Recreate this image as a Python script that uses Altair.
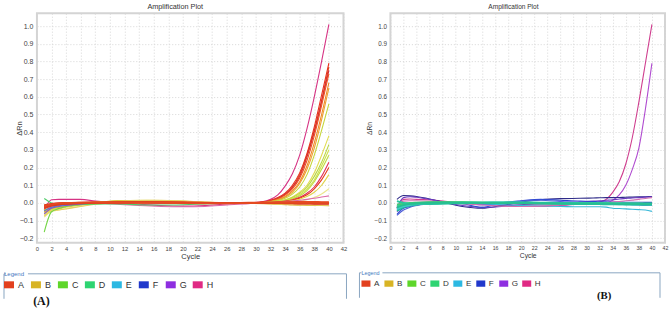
import altair as alt
import pandas as pd

# ---------------- data ----------------
CYCLES = [1, 2, 3, 4, 6, 8, 11, 14, 17, 20, 23, 26, 29, 31, 32, 33, 34, 35, 36, 37, 38, 39, 40]
ROWS = ["A", "B", "C", "D", "E", "F", "G", "H"]
X_TICKS = list(range(0, 43, 2))
Y_TICKS = [-0.2, -0.1, 0.0, 0.1, 0.2, 0.3, 0.4, 0.5, 0.6, 0.7, 0.8, 0.9, 1.0]

# Panel (A) wells: delta Rn per cycle
A_WELLS = {
    "a_pink1":   [-0.04, 0.018, 0.02, 0.02, 0.02, 0.01, 0.0, -0.008, -0.015, -0.018, -0.015, -0.006, 0.0, 0.008, 0.02, 0.045, 0.095, 0.165, 0.27, 0.42, 0.60, 0.80, 1.01],
    "a_red1":    [-0.02, -0.012, -0.006, -0.003, 0.0, 0.002, 0.003, 0.004, 0.003, 0.002, 0.001, 0.0, 0.0, 0.005, 0.015, 0.03, 0.055, 0.10, 0.17, 0.28, 0.43, 0.61, 0.79],
    "a_red2":    [-0.015, -0.01, -0.005, -0.002, 0.0, 0.001, 0.002, 0.003, 0.002, 0.001, 0.0, 0.0, 0.001, 0.004, 0.012, 0.026, 0.05, 0.09, 0.16, 0.27, 0.41, 0.58, 0.77],
    "a_red3":    [-0.025, -0.014, -0.008, -0.004, -0.002, 0.0, 0.002, 0.004, 0.004, 0.003, 0.001, 0.0, 0.0, 0.004, 0.012, 0.025, 0.048, 0.088, 0.15, 0.26, 0.40, 0.57, 0.75],
    "a_red4":    [-0.018, -0.01, -0.004, 0.0, 0.002, 0.003, 0.004, 0.005, 0.004, 0.002, 0.0, -0.001, 0.0, 0.003, 0.01, 0.022, 0.044, 0.08, 0.14, 0.24, 0.38, 0.55, 0.73],
    "a_orange1": [-0.03, -0.018, -0.01, -0.005, 0.0, 0.004, 0.008, 0.01, 0.008, 0.005, 0.002, 0.0, 0.0, 0.002, 0.008, 0.018, 0.036, 0.068, 0.12, 0.21, 0.34, 0.50, 0.68],
    "a_orange2": [-0.04, -0.025, -0.015, -0.008, -0.002, 0.004, 0.01, 0.012, 0.01, 0.006, 0.002, 0.0, 0.0, 0.002, 0.007, 0.016, 0.032, 0.06, 0.11, 0.19, 0.31, 0.47, 0.65],
    "a_ygreen1": [-0.05, -0.035, -0.025, -0.015, -0.005, 0.003, 0.01, 0.012, 0.01, 0.006, 0.002, 0.0, 0.0, 0.002, 0.006, 0.013, 0.026, 0.05, 0.09, 0.16, 0.27, 0.41, 0.56],
    "a_yellow1": [-0.06, -0.04, -0.03, -0.02, -0.008, 0.002, 0.01, 0.014, 0.012, 0.008, 0.003, 0.0, -0.001, 0.001, 0.004, 0.009, 0.018, 0.034, 0.06, 0.10, 0.17, 0.27, 0.38],
    "a_ygreen2": [-0.045, -0.03, -0.02, -0.012, -0.004, 0.002, 0.008, 0.01, 0.009, 0.006, 0.002, 0.0, 0.0, 0.001, 0.004, 0.008, 0.016, 0.03, 0.054, 0.09, 0.15, 0.23, 0.33],
    "a_ygreen3": [-0.055, -0.038, -0.028, -0.018, -0.006, 0.002, 0.01, 0.013, 0.011, 0.007, 0.003, 0.0, 0.0, 0.001, 0.003, 0.007, 0.014, 0.026, 0.047, 0.08, 0.13, 0.21, 0.30],
    "a_ygreen4": [-0.04, -0.028, -0.02, -0.012, -0.004, 0.002, 0.008, 0.01, 0.009, 0.005, 0.002, 0.0, 0.0, 0.0, 0.003, 0.006, 0.012, 0.022, 0.04, 0.07, 0.12, 0.19, 0.27],
    "a_rose1":   [-0.03, -0.015, -0.008, -0.004, 0.0, 0.002, 0.004, 0.004, 0.003, 0.002, 0.0, 0.0, 0.0, 0.0, 0.002, 0.005, 0.01, 0.018, 0.032, 0.055, 0.09, 0.15, 0.23],
    "a_red5":    [-0.02, -0.01, -0.005, -0.002, 0.0, 0.002, 0.003, 0.004, 0.003, 0.002, 0.0, 0.0, 0.0, 0.0, 0.002, 0.004, 0.008, 0.015, 0.027, 0.046, 0.08, 0.13, 0.20],
    "a_yellow2": [-0.07, -0.045, -0.035, -0.025, -0.012, 0.0, 0.01, 0.015, 0.014, 0.01, 0.004, 0.0, 0.0, 0.0, 0.001, 0.003, 0.006, 0.012, 0.021, 0.036, 0.06, 0.10, 0.16],
    "a_lyellow": [-0.08, -0.048, -0.04, -0.032, -0.018, -0.005, 0.008, 0.014, 0.014, 0.01, 0.004, 0.0, -0.002, 0.0, 0.0, 0.001, 0.003, 0.006, 0.01, 0.018, 0.03, 0.05, 0.08],
    "a_pink2":   [-0.05, -0.02, -0.01, -0.005, 0.0, 0.0, -0.008, -0.015, -0.02, -0.022, -0.02, -0.012, -0.004, 0.0, 0.001, 0.003, 0.006, 0.01, 0.015, 0.02, 0.026, 0.033, 0.04],
    "a_goldf":   [-0.05, -0.03, -0.024, -0.018, -0.01, 0.0, 0.01, 0.012, 0.01, 0.005, 0.0, -0.002, -0.003, -0.004, -0.006, -0.008, -0.01, -0.012, -0.013, -0.014, -0.015, -0.015, -0.016],
    "a_yellowf": [-0.075, -0.045, -0.04, -0.034, -0.02, -0.008, 0.005, 0.014, 0.015, 0.01, 0.002, 0.0, -0.001, -0.002, -0.004, -0.006, -0.008, -0.01, -0.011, -0.012, -0.012, -0.013, -0.013],
    "a_greenf1": [-0.165, -0.05, -0.032, -0.02, -0.01, -0.005, 0.0, 0.003, 0.002, 0.0, 0.0, 0.0, 0.0, 0.0, 0.0, 0.001, 0.001, 0.0, 0.0, -0.001, -0.001, -0.001, -0.002],
    "a_greenf2": [0.025, 0.0, -0.008, -0.01, -0.008, -0.006, -0.006, -0.01, -0.012, -0.01, -0.006, -0.002, 0.0, 0.0, 0.0, -0.001, -0.001, -0.002, -0.002, -0.002, -0.003, -0.003, -0.003],
    "a_purplef": [-0.062, -0.03, -0.02, -0.014, -0.006, -0.002, 0.0, 0.002, 0.0, -0.002, -0.002, 0.0, 0.0, 0.0, 0.0, 0.0, -0.001, -0.001, -0.001, -0.002, -0.002, -0.002, -0.002],
    "a_bluef":   [-0.045, -0.025, -0.016, -0.01, -0.004, 0.0, 0.002, 0.002, 0.0, -0.001, 0.0, 0.0, 0.0, 0.0, 0.001, 0.001, 0.001, 0.0, 0.0, 0.0, -0.001, -0.001, -0.001],
    "a_redf1":   [-0.02, -0.01, -0.005, -0.002, 0.0, 0.0, 0.001, 0.002, 0.002, 0.001, 0.0, 0.0, 0.0, 0.0, 0.0, 0.0, -0.001, -0.001, -0.002, -0.002, -0.002, -0.003, -0.003],
    "a_redf2":   [-0.012, -0.006, -0.002, 0.0, 0.002, 0.003, 0.004, 0.005, 0.004, 0.002, 0.0, -0.001, 0.0, 0.0, 0.0, -0.001, -0.002, -0.003, -0.004, -0.004, -0.005, -0.005, -0.005],
    "a_redf3":   [-0.025, -0.014, -0.006, -0.003, 0.0, 0.001, 0.003, 0.004, 0.004, 0.003, 0.001, 0.0, 0.001, 0.002, 0.003, 0.004, 0.005, 0.005, 0.006, 0.006, 0.006, 0.005, 0.005],
    "a_redf4":   [-0.03, -0.016, -0.01, -0.006, -0.002, 0.0, 0.002, 0.003, 0.002, 0.001, 0.0, 0.0, 0.0, 0.001, 0.001, 0.002, 0.002, 0.002, 0.001, 0.0, 0.0, -0.001, -0.001],
    "a_redf5":   [-0.016, -0.008, -0.003, 0.0, 0.001, 0.002, 0.002, 0.001, 0.0, -0.001, -0.002, -0.002, -0.001, 0.0, 0.0, 0.0, 0.0, 0.001, 0.001, 0.001, 0.001, 0.001, 0.001],
}

# Panel (B) wells
B_WELLS = {
    "b_pink":    [-0.03, 0.02, 0.022, 0.02, 0.018, 0.01, 0.0, -0.008, -0.015, -0.02, -0.02, -0.015, -0.006, 0.0, 0.005, 0.02, 0.06, 0.12, 0.22, 0.37, 0.57, 0.79, 1.01],
    "b_purple":  [-0.05, -0.02, -0.01, -0.005, 0.0, 0.002, 0.0, -0.005, -0.01, -0.012, -0.012, -0.01, -0.008, -0.005, -0.005, 0.0, 0.015, 0.045, 0.10, 0.19, 0.31, 0.53, 0.79],
    "b_navy":    [0.02, 0.042, 0.04, 0.036, 0.022, 0.004, -0.02, -0.03, -0.015, 0.005, 0.018, 0.024, 0.026, 0.028, 0.029, 0.03, 0.03, 0.031, 0.032, 0.033, 0.034, 0.035, 0.036],
    "b_violet":  [-0.03, 0.03, 0.035, 0.032, 0.02, 0.005, -0.015, -0.025, -0.02, -0.01, -0.005, 0.0, 0.005, 0.01, 0.012, 0.015, 0.018, 0.022, 0.025, 0.028, 0.03, 0.033, 0.035],
    "b_blue":    [-0.065, -0.03, -0.02, -0.012, -0.005, 0.0, -0.005, -0.025, 0.0, 0.012, 0.02, 0.015, 0.01, 0.008, 0.006, 0.006, 0.005, 0.005, 0.004, 0.004, 0.004, 0.003, 0.003],
    "b_blue2":   [-0.07, -0.04, -0.025, -0.015, -0.006, 0.0, 0.004, -0.01, -0.005, 0.01, 0.015, 0.008, 0.004, 0.0, 0.0, -0.002, -0.004, -0.006, -0.008, -0.01, -0.012, -0.014, -0.015],
    "b_cyan":    [-0.04, -0.02, -0.015, -0.01, -0.005, 0.0, 0.0, -0.005, -0.01, -0.015, -0.018, -0.02, -0.022, -0.022, -0.022, -0.024, -0.03, -0.032, -0.034, -0.036, -0.038, -0.04, -0.048],
    "b_pinkf":   [-0.02, 0.01, 0.012, 0.012, 0.01, 0.005, -0.005, -0.012, -0.018, -0.02, -0.018, -0.012, -0.006, -0.002, 0.0, 0.002, 0.005, 0.008, 0.012, 0.016, 0.02, 0.025, 0.03],
    "b_teal1":   [-0.03, -0.015, -0.01, -0.006, -0.002, 0.0, 0.0, 0.0, 0.0, -0.001, -0.002, -0.003, -0.004, -0.004, -0.004, -0.004, -0.005, -0.005, -0.005, -0.005, -0.006, -0.006, -0.006],
    "b_teal2":   [-0.02, -0.01, -0.004, 0.0, 0.002, 0.003, 0.003, 0.002, 0.001, 0.0, 0.0, -0.001, -0.002, -0.002, -0.002, -0.002, -0.003, -0.003, -0.003, -0.003, -0.003, -0.004, -0.004],
    "b_teal3":   [-0.045, -0.025, -0.015, -0.01, -0.005, -0.002, -0.001, 0.0, 0.0, 0.0, -0.002, -0.004, -0.006, -0.007, -0.007, -0.008, -0.008, -0.008, -0.009, -0.009, -0.009, -0.01, -0.01],
    "b_green":   [-0.01, -0.004, 0.0, 0.002, 0.004, 0.004, 0.004, 0.003, 0.002, 0.0, -0.001, -0.002, -0.002, -0.003, -0.003, -0.003, -0.003, -0.004, -0.004, -0.004, -0.004, -0.004, -0.004],
    "b_aqua":    [-0.035, -0.02, -0.012, -0.008, -0.004, -0.002, 0.0, 0.002, 0.003, 0.002, 0.0, -0.002, -0.004, -0.005, -0.006, -0.006, -0.007, -0.008, -0.008, -0.009, -0.01, -0.01, -0.011],
    "b_teal4":   [0.01, 0.0, -0.004, -0.006, -0.006, -0.004, -0.002, 0.0, 0.002, 0.003, 0.002, 0.0, -0.001, -0.002, -0.002, -0.003, -0.003, -0.003, -0.003, -0.004, -0.004, -0.004, -0.004],
    "b_teal5":   [-0.025, -0.012, -0.006, -0.002, 0.0, 0.001, 0.001, 0.0, -0.001, -0.002, -0.003, -0.004, -0.005, -0.005, -0.006, -0.006, -0.006, -0.007, -0.007, -0.007, -0.007, -0.008, -0.008],
}

# ---------------- styles (kept apart from the values) ----------------
ROW_COLORS = ["#e2401e", "#d8b424", "#5ed62a", "#2ed472", "#2cb8e2", "#2038cc", "#8e2ee0", "#e02a84"]

WELL_COLOR = {
    "a_pink1": "#d63384", "a_red1": "#e8321e", "a_red2": "#df4019", "a_red3": "#d42a3a",
    "a_red4": "#ec5422", "a_orange1": "#f0882a", "a_orange2": "#eda032", "a_ygreen1": "#c6d63a",
    "a_yellow1": "#e2dc52", "a_ygreen2": "#b8d646", "a_ygreen3": "#cee04c", "a_ygreen4": "#bfdc3e",
    "a_rose1": "#e0305c", "a_red5": "#e63c1a", "a_yellow2": "#e0d44e", "a_lyellow": "#ebe68e",
    "a_pink2": "#dc6aa8", "a_goldf": "#dcb43a", "a_yellowf": "#e6d064", "a_greenf1": "#74d646",
    "a_greenf2": "#50cc6a", "a_purplef": "#8a4cd0", "a_bluef": "#4a7ad8", "a_redf1": "#e2381c",
    "a_redf2": "#d8301e", "a_redf3": "#ea4a26", "a_redf4": "#dc3a22", "a_redf5": "#e44a20",
    "b_pink": "#cf3d8e", "b_purple": "#b04cd0", "b_navy": "#2e2a88", "b_violet": "#6a3ac0",
    "b_blue": "#3048d0", "b_blue2": "#5060d8", "b_cyan": "#38b8d8", "b_pinkf": "#d070b0",
    "b_teal1": "#22c888", "b_teal2": "#30d4a8", "b_teal3": "#1cb898", "b_green": "#3cd070",
    "b_aqua": "#40c8c8", "b_teal4": "#28c49c", "b_teal5": "#26bf90",
}
THICK = {"a_redf1", "a_redf2", "a_redf3", "a_redf4", "a_redf5",
         "b_teal1", "b_teal2", "b_teal3", "b_green", "b_aqua", "b_teal4", "b_teal5"}


def long_table(wells):
    recs = []
    for name, vals in wells.items():
        for c, v in zip(CYCLES, vals):
            recs.append({"well": name, "cycle": c, "drn": v,
                         "shade": WELL_COLOR[name],
                         "w": 1.8 if name in THICK else 1.1})
    return pd.DataFrame(recs)


dfA = long_table(A_WELLS)
dfB = long_table(B_WELLS)
legend_df = pd.DataFrame({"row": ROWS})
one = pd.DataFrame({"k": [0]})

FONT = "Liberation Sans"
LEG_PATH = "M-1,-0.7H1V0.7H-1Z"
FRAME_COLOR = "#8aa6c1"


def panel(df, width, height, s, legend_x, legend_y, col_pad, frame, tag, tag_xy, y_title_x):
    # s: text scale of the panel
    base = alt.Chart(df)
    lines = base.mark_line(interpolate="monotone", clip=True).encode(
        x=alt.X("cycle:Q",
                scale=alt.Scale(domain=[0, 42], nice=False, zero=False),
                axis=alt.Axis(values=X_TICKS, title="Cycle", labelFontSize=5.8 * s,
                              titleFontSize=7.5 * s, labelPadding=3, titlePadding=1,
                              labelColor="#444", titleColor="#333", titleFontWeight="normal",
                              ticks=False, domain=False, grid=True, gridColor="#d6d6d6",
                              gridDash=[1, 2], gridWidth=1, labelFlush=False)),
        y=alt.Y("drn:Q",
                scale=alt.Scale(domain=[-0.226, 1.073], nice=False, zero=False),
                axis=alt.Axis(values=Y_TICKS, format=".1f", title="ΔRn", labelFontSize=7 * s,
                              titleFontSize=7.5 * s, labelPadding=4, titleX=y_title_x,
                              labelColor="#444", titleColor="#333", titleFontWeight="normal",
                              ticks=False, domain=False, grid=True, gridColor="#d6d6d6",
                              gridDash=[1, 2], gridWidth=1, labelFlush=False)),
        detail="well:N",
        stroke=alt.Stroke("shade:N", scale=None),
        strokeWidth=alt.StrokeWidth("w:Q", scale=None),
    )
    leg = alt.Chart(legend_df).mark_square(opacity=0).encode(
        color=alt.Color("row:N", scale=alt.Scale(domain=ROWS, range=ROW_COLORS),
                        legend=alt.Legend(orient="none", legendX=legend_x, legendY=legend_y,
                                          direction="horizontal", columns=8, title="Legend",
                                          titleFontSize=6 * s, titleColor="#3f78c0",
                                          titleFontWeight="normal", titlePadding=3 * s,
                                          symbolType=LEG_PATH, symbolSize=100 * s * s,
                                          symbolStrokeWidth=0, labelFontSize=9 * s,
                                          labelColor="#333", labelOffset=4 * s,
                                          columnPadding=col_pad, gridAlign="all", padding=0))
    )
    fdf = pd.DataFrame(frame, columns=["x", "x2", "y", "y2"])
    frame_marks = alt.Chart(fdf).mark_rule(color=FRAME_COLOR, strokeWidth=1).encode(
        x=alt.X("x:Q", scale=None), x2="x2:Q",
        y=alt.Y("y:Q", scale=None), y2="y2:Q")
    label = alt.Chart(one).mark_text(text=tag, font="Liberation Serif", fontWeight="bold",
                                     fontSize=12 * s, color="#111").encode(
        x=alt.value(tag_xy[0]), y=alt.value(tag_xy[1]))
    return alt.layer(lines, leg, frame_marks, label).properties(
        width=width, height=height,
        title=alt.TitleParams("Amplification Plot", fontSize=7.3 * s, fontWeight="normal",
                              color="#333", anchor="middle", frame="bounds", offset=3, font=FONT))


# frame segments relative to each plot origin: x, x2, y, y2
FRAME_A = [[-33, -31, 261, 261], [-9, 310, 261, 261], [-33, -33, 261, 286], [310, 310, 261, 286]]
FRAME_B = [[-31, -29, 260, 260], [-8, 270, 260, 260], [-31, -31, 260, 285], [270, 270, 260, 285]]

left = panel(dfA, 307, 230, 1.0, -33, 258, 5, FRAME_A, "(A)", (4.5, 288), -13)
right = panel(dfB, 275, 230, 0.9, -29, 258, 4, FRAME_B, "(B)", (214, 283), -18)

chart = alt.hconcat(left, right, spacing=9).resolve_scale(
    color="independent").resolve_legend(color="independent").properties(
    padding={"left": 2, "top": 1, "right": 0, "bottom": 0}
).configure(font=FONT).configure_view(stroke="#d4d4d4", strokeWidth=2)

chart.save("out.html", embed_options={"renderer": "svg", "actions": False})
